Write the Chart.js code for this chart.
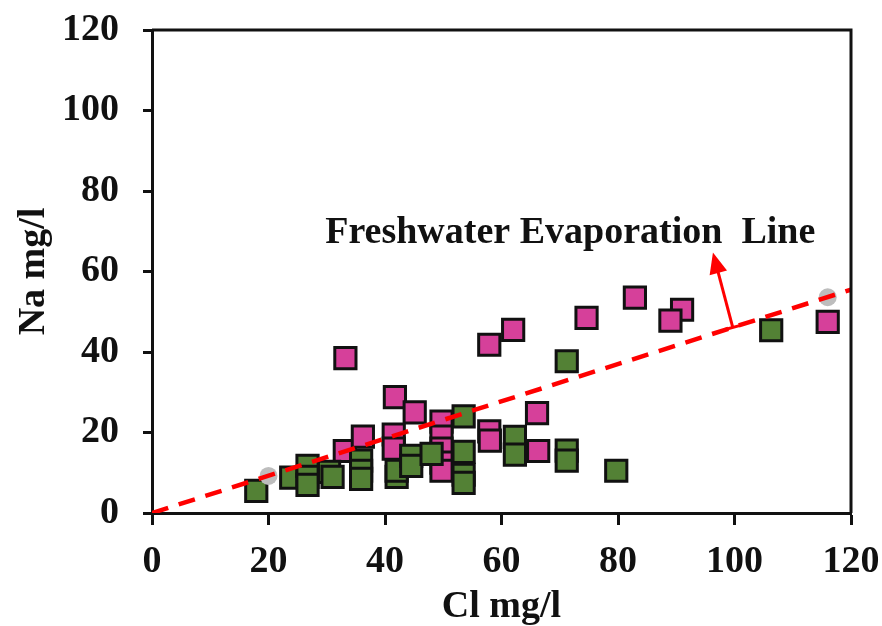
<!DOCTYPE html>
<html>
<head>
<meta charset="utf-8">
<script src="https://cdn.jsdelivr.net/npm/chart.js@4.4.1/dist/chart.umd.min.js"></script>
<style>
  html, body { margin: 0; padding: 0; background: #fff; }
  #wrap { width: 882px; height: 626px; }
</style>
</head>
<body>
<div id="wrap"><canvas id="chart" width="882" height="626"></canvas></div>
<script>
// pink group (Cl, Na)
const pinkCl = [33.2, 57.9, 62, 74.6, 82.9, 91, 89, 116, 41.7, 45.1, 66.1, 57.9, 58, 66.3, 33.1, 36.2, 41.5, 41.5, 49.7, 49.7, 49.7, 49.7, 49.7];
const pinkNa = [38.5, 41.8, 45.5, 48.5, 53.5, 50.5, 47.8, 47.5, 28.8, 25, 24.8, 20.3, 18, 15.4, 15.4, 19, 19.5, 16, 22.7, 19, 16, 12.5, 10.5];

// green group (Cl, Na)
const greenCl = [17.9, 23.9, 26.7, 26.7, 26.7, 30.4, 31, 35.9, 35.9, 35.9, 42, 42, 44.5, 44.5, 48, 53.5, 53.5, 53.5, 53.5, 62.3, 62.3, 71.2, 71.2, 71.2, 79.7, 106.3];
const greenNa = [5.5, 8.8, 11.7, 9, 7, 10.2, 9, 13, 10.5, 8.5, 9, 10.5, 14.2, 11.7, 14.7, 24, 15.2, 9.5, 7.5, 18.9, 14.5, 37.7, 15.5, 13, 10.5, 45.4];

// freshwater evaporation line and its grey end markers
const lineCl = [0, 120];
const lineNa = [0, 55.5];
const endCl = [20, 116];
const endNa = [9.2, 53.6];

// annotation (data coords)
const labelText = 'Freshwater Evaporation  Line';
const labelPos = [71.8, 69.6];
const arrowFrom = [99.7, 46.1];
const arrowTo = [96.3, 64.7];

const xTicks = [0, 20, 40, 60, 80, 100, 120];
const yTicks = [0, 20, 40, 60, 80, 100, 120];

function pts(xs, ys) {
    return xs.map((x, i) => ({ x: x, y: ys[i] }));
}

const FONT = 'Liberation Serif';
const FSIZE = 38;

// box border + arrow + label
const extras = {
    id: 'extras',
    afterDatasetsDraw(chart) {
        const ctx = chart.ctx;
        const a = chart.chartArea;
        const xs = chart.scales.x, ys = chart.scales.y;
        ctx.save();
        ctx.strokeStyle = '#111';
        ctx.lineWidth = 3;
        ctx.beginPath();
        ctx.moveTo(a.left, a.top);
        ctx.lineTo(a.right, a.top);
        ctx.lineTo(a.right, a.bottom);
        ctx.stroke();

        // arrow
        const x0 = xs.getPixelForValue(arrowFrom[0]), y0 = ys.getPixelForValue(arrowFrom[1]);
        const x1 = xs.getPixelForValue(arrowTo[0]), y1 = ys.getPixelForValue(arrowTo[1]);
        const ang = Math.atan2(y1 - y0, x1 - x0);
        const headLen = 21, headW = 9;
        ctx.strokeStyle = '#FF0000';
        ctx.fillStyle = '#FF0000';
        ctx.lineWidth = 3;
        ctx.beginPath();
        ctx.moveTo(x0, y0);
        ctx.lineTo(x1 - Math.cos(ang) * headLen * 0.8, y1 - Math.sin(ang) * headLen * 0.8);
        ctx.stroke();
        // T-bar at the base
        const px = -Math.sin(ang), py = Math.cos(ang);
        ctx.beginPath();
        ctx.moveTo(x0 - px * 8, y0 - py * 8);
        ctx.lineTo(x0 + px * 8, y0 + py * 8);
        ctx.stroke();
        // head
        const bx = x1 - Math.cos(ang) * headLen, by = y1 - Math.sin(ang) * headLen;
        ctx.beginPath();
        ctx.moveTo(x1, y1);
        ctx.lineTo(bx + px * headW, by + py * headW);
        ctx.lineTo(bx - px * headW, by - py * headW);
        ctx.closePath();
        ctx.fill();

        // label
        ctx.fillStyle = '#111';
        ctx.font = 'bold ' + FSIZE + 'px "' + FONT + '"';
        ctx.textAlign = 'center';
        ctx.textBaseline = 'middle';
        ctx.fillText(labelText, xs.getPixelForValue(labelPos[0]), ys.getPixelForValue(labelPos[1]));
        ctx.restore();
    }
};

new Chart(document.getElementById('chart').getContext('2d'), {
    type: 'scatter',
    data: {
        datasets: [
            {
                label: 'Evaporation line',
                type: 'line',
                data: pts(lineCl, lineNa),
                borderColor: '#FF0000',
                borderWidth: 4.5,
                borderDash: [17, 11],
                pointRadius: 0,
                fill: false,
                order: 0
            },
            {
                label: 'ends',
                data: pts(endCl, endNa),
                pointStyle: 'circle',
                pointRadius: 9,
                backgroundColor: '#BDBDBD',
                borderWidth: 0,
                order: 1
            },
            {
                label: 'green',
                data: pts(greenCl, greenNa),
                pointStyle: 'rect',
                pointRadius: 15,
                backgroundColor: '#538135',
                borderColor: '#111',
                borderWidth: 3,
                order: 2
            },
            {
                label: 'pink',
                data: pts(pinkCl, pinkNa),
                pointStyle: 'rect',
                pointRadius: 15,
                backgroundColor: '#D6409A',
                borderColor: '#111',
                borderWidth: 3,
                order: 3
            }
        ]
    },
    options: {
        responsive: false,
        animation: false,
        layout: { padding: { top: 30, right: 31, left: 0, bottom: 0 } },
        plugins: {
            legend: { display: false },
            tooltip: { enabled: false }
        },
        scales: {
            x: {
                type: 'linear',
                min: 0, max: 120,
                afterBuildTicks: s => { s.ticks = xTicks.map(v => ({ value: v })); },
                afterFit: s => { s.height = 113; s.paddingLeft = 0; s.paddingRight = 0; },
                grid: { display: true, drawOnChartArea: false, tickLength: 12, tickColor: '#111', tickWidth: 3 },
                border: { display: true, color: '#111', width: 3 },
                ticks: { color: '#111', padding: 14, font: { family: FONT, size: FSIZE, weight: 'bold' } },
                title: { display: true, text: 'Cl mg/l', color: '#111', padding: { top: 0, bottom: -4 }, font: { family: FONT, size: FSIZE, weight: 'bold' } }
            },
            y: {
                type: 'linear',
                min: 0, max: 120,
                afterBuildTicks: s => { s.ticks = yTicks.map(v => ({ value: v })); },
                afterFit: s => { s.width = 152; s.paddingTop = 0; s.paddingBottom = 0; },
                grid: { display: true, drawOnChartArea: false, tickLength: 9, tickColor: '#111', tickWidth: 3 },
                border: { display: true, color: '#111', width: 3 },
                ticks: { color: '#111', padding: 24, font: { family: FONT, size: FSIZE, weight: 'bold' } },
                title: { display: true, text: 'Na mg/l', color: '#111', padding: { top: 11, bottom: 0 }, font: { family: FONT, size: FSIZE, weight: 'bold' } }
            }
        }
    },
    plugins: [extras]
});
</script>
</body>
</html>
